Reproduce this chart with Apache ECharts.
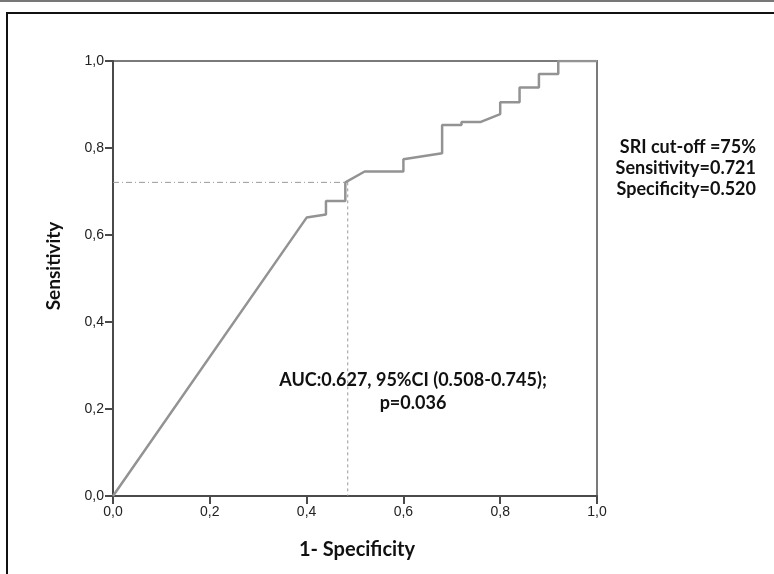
<!DOCTYPE html>
<html>
<head>
<meta charset="utf-8">
<script src="https://cdn.jsdelivr.net/npm/echarts@6/dist/echarts.min.js"></script>
<style>
html,body{margin:0;padding:0;background:#fff;}
#chart{width:774px;height:574px;}
</style>
</head>
<body>
<div id="chart"></div>
<script>
// ROC curve points: [1 - specificity, sensitivity]
const rocFpr  = [0, 0.40, 0.44, 0.44, 0.48, 0.48, 0.52, 0.60, 0.60, 0.68, 0.68, 0.72, 0.72, 0.76, 0.80, 0.80, 0.84, 0.84, 0.88, 0.88, 0.92, 0.92, 1.00];
const rocTpr  = [0, 0.640, 0.647, 0.678, 0.678, 0.721, 0.746, 0.746, 0.774, 0.788, 0.853, 0.853, 0.860, 0.860, 0.878, 0.905, 0.905, 0.939, 0.939, 0.970, 0.970, 1.000, 1.000];
// cut-off point
const cutFpr = 0.485;
const cutTpr = 0.721;
const tickValues = [0, 0.2, 0.4, 0.6, 0.8, 1.0];
const tickLabels = ['0,0', '0,2', '0,4', '0,6', '0,8', '1,0'];
const xTitle = '1- Specificity';
const yTitle = 'Sensitivity';
const aucText = ['AUC:0.627, 95%CI (0.508-0.745);', 'p=0.036'];
const cutText = ['SRI cut-off =75%', 'Sensitivity=0.721', 'Specificity=0.520'];

const chart = echarts.init(document.getElementById('chart'), null, {renderer: 'canvas'});
const fmt = v => { const i = tickValues.findIndex(t => Math.abs(t - v) < 1e-6); return i >= 0 ? tickLabels[i] : ''; };
const labelStyle = {formatter: fmt, color: '#222', fontFamily: 'Liberation Sans', fontSize: 14, margin: 9};
const lineStyleAxis = {color: '#4a4a4a', width: 2};
const rocData = rocFpr.map((x, i) => [x, rocTpr[i]]);
const txtFont = 'bold 18px Lato';

chart.setOption({
  animation: false,
  backgroundColor: '#fff',
  textStyle: {fontFamily: 'Liberation Sans', fontSize: 14},
  grid: {left: 113, top: 61, width: 484, height: 435, show: true, borderColor: '#7a7a7a', borderWidth: 2, backgroundColor: 'transparent'},
  xAxis: {
    type: 'value', min: 0, max: 1, interval: 0.2,
    axisLine: {show: true, onZero: false, lineStyle: lineStyleAxis},
    axisTick: {show: true, inside: false, length: 8, lineStyle: lineStyleAxis},
    splitLine: {show: false},
    axisLabel: {formatter: fmt, color: '#222', fontFamily: 'Liberation Sans', fontSize: 14, margin: 9},
    name: xTitle, nameLocation: 'middle', nameGap: 44,
    nameTextStyle: {fontFamily: 'Lato', fontWeight: 'bold', fontSize: 20, color: '#111', padding: [0, 0, 0, 4]}
  },
  yAxis: {
    type: 'value', min: 0, max: 1, interval: 0.2,
    axisLine: {show: true, onZero: false, lineStyle: lineStyleAxis},
    axisTick: {show: true, inside: false, length: 8, lineStyle: lineStyleAxis},
    splitLine: {show: false},
    axisLabel: {formatter: fmt, color: '#222', fontFamily: 'Liberation Sans', fontSize: 14, margin: 9}
  },
  series: [
    {
      type: 'line', data: [[0, cutTpr], [cutFpr, cutTpr]], symbol: 'none', silent: true,
      lineStyle: {color: '#9a9a9a', width: 1, type: [6, 3, 1, 3]}, z: 1
    },
    {
      type: 'line', data: [[cutFpr, cutTpr], [cutFpr, 0]], symbol: 'none', silent: true,
      lineStyle: {color: '#9a9a9a', width: 1, type: [3, 3]}, z: 1
    },
    {
      type: 'line', data: rocData, symbol: 'none',
      lineStyle: {color: '#939393', width: 2.5}, z: 3
    }
  ],
  graphic: [
    {type: 'rect', shape: {x: 0, y: 0, width: 774, height: 2}, style: {fill: '#777'}},
    {type: 'rect', shape: {x: 7, y: 13, width: 820, height: 620}, style: {fill: 'none', stroke: '#111', lineWidth: 2}},
    {type: 'text', x: 54, y: 266, rotation: Math.PI / 2, style: {text: yTitle, textAlign: 'center', textVerticalAlign: 'middle', font: 'bold 19px Lato', fill: '#111'}},
    {type: 'text', x: 413, y: 380, style: {text: aucText[0], textAlign: 'center', textVerticalAlign: 'middle', font: txtFont, fill: '#111'}},
    {type: 'text', x: 413, y: 403, style: {text: aucText[1], textAlign: 'center', textVerticalAlign: 'middle', font: txtFont, fill: '#111'}},
    {type: 'text', x: 756, y: 147, style: {text: cutText[0], textAlign: 'right', textVerticalAlign: 'middle', font: txtFont, fill: '#111'}},
    {type: 'text', x: 756, y: 168, style: {text: cutText[1], textAlign: 'right', textVerticalAlign: 'middle', font: txtFont, fill: '#111'}},
    {type: 'text', x: 756, y: 189, style: {text: cutText[2], textAlign: 'right', textVerticalAlign: 'middle', font: txtFont, fill: '#111'}}
  ]
});
</script>
</body>
</html>
